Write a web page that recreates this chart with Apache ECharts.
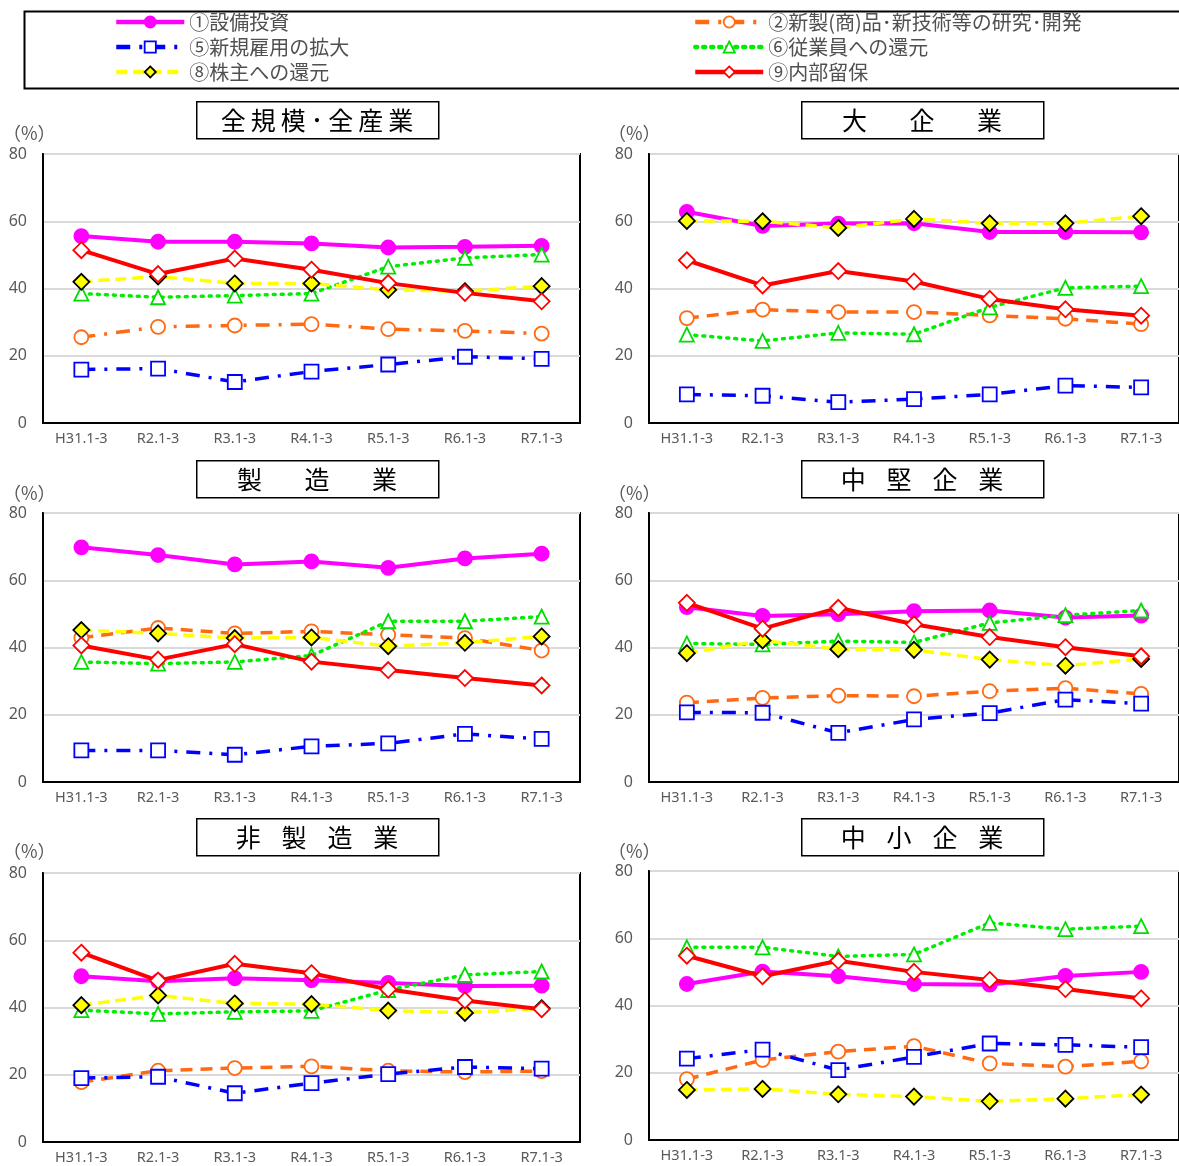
<!DOCTYPE html>
<html><head><meta charset="utf-8">
<script src="https://cdn.jsdelivr.net/npm/echarts@6/dist/echarts.min.js"></script>
<style>html,body{margin:0;padding:0;background:#fff}#c{width:1179px;height:1166px}</style>
</head><body><div id="c"></div>
<script>
const categories = ['H31.1-3','R2.1-3','R3.1-3','R4.1-3','R5.1-3','R6.1-3','R7.1-3'];
const seriesNames = ['①設備投資','②新製(商)品･新技術等の研究･開発','⑤新規雇用の拡大','⑥従業員への還元','⑧株主への還元','⑨内部留保'];
const yTicks = [0, 20, 40, 60, 80];
const panelTitles = [
  '全\u2009規\u2009模\u2009･\u2009全\u2009産\u2009業',
  '大\u2003\u2002\u2009企\u2003\u2002\u2009業',
  '製\u2003\u2002\u2009造\u2003\u2002\u2009業',
  '中\u2002\u2004堅\u2002\u2004企\u2002\u2004業',
  '非\u2002\u2004製\u2002\u2004造\u2002\u2004業',
  '中\u2002\u2004小\u2002\u2004企\u2002\u2004業'
];

// rows in seriesNames order
const allSizes = [
  [55.6, 53.9, 53.9, 53.4, 52.2, 52.4, 52.7],
  [25.5, 28.6, 29.0, 29.4, 27.9, 27.4, 26.6],
  [15.9, 16.2, 12.2, 15.3, 17.4, 19.7, 19.1],
  [38.5, 37.4, 37.9, 38.5, 46.5, 49.1, 50.1],
  [42.0, 43.6, 41.5, 41.5, 39.6, 39.2, 40.7],
  [51.4, 44.3, 48.9, 45.6, 41.6, 38.7, 36.2]
];
const large = [
  [62.8, 58.6, 59.3, 59.4, 56.8, 56.8, 56.7],
  [31.2, 33.7, 33.0, 33.0, 32.0, 31.0, 29.4],
  [8.5, 8.1, 6.2, 7.1, 8.5, 11.1, 10.6],
  [26.3, 24.4, 26.8, 26.4, 34.4, 40.2, 40.7],
  [60.1, 60.0, 58.0, 60.7, 59.4, 59.4, 61.5],
  [48.4, 40.9, 45.2, 42.1, 36.9, 33.8, 31.9]
];
const manufacturing = [
  [69.8, 67.5, 64.7, 65.6, 63.7, 66.5, 67.9],
  [42.9, 45.8, 44.2, 44.8, 43.8, 42.8, 39.1],
  [9.4, 9.4, 8.1, 10.6, 11.5, 14.3, 12.8],
  [35.7, 35.2, 35.7, 37.6, 47.8, 47.8, 49.2],
  [45.2, 44.2, 42.8, 43.0, 40.4, 41.4, 43.3],
  [40.6, 36.4, 41.0, 35.8, 33.3, 30.9, 28.7]
];
const midsize = [
  [52.0, 49.4, 49.9, 50.8, 51.0, 48.9, 49.5],
  [23.6, 25.0, 25.7, 25.5, 27.0, 27.9, 26.2],
  [20.7, 20.6, 14.6, 18.6, 20.5, 24.5, 23.3],
  [41.2, 40.9, 41.9, 41.5, 47.3, 49.6, 51.0],
  [38.3, 42.1, 39.5, 39.3, 36.4, 34.6, 36.6],
  [53.3, 45.6, 51.8, 46.9, 43.1, 40.1, 37.4]
];
const nonManufacturing = [
  [49.3, 47.8, 48.7, 48.1, 47.3, 46.4, 46.5],
  [17.8, 21.2, 22.0, 22.5, 21.2, 20.8, 21.1],
  [19.0, 19.4, 14.5, 17.5, 20.2, 22.3, 21.8],
  [39.2, 38.1, 38.7, 39.0, 45.2, 49.7, 50.7],
  [40.7, 43.6, 41.2, 41.0, 39.1, 38.4, 39.8],
  [56.3, 48.0, 53.0, 50.2, 45.4, 42.1, 39.5]
];
const small = [
  [46.4, 50.1, 48.7, 46.4, 46.2, 48.8, 50.0],
  [18.1, 23.8, 26.3, 27.9, 22.8, 21.8, 23.4],
  [24.2, 26.9, 20.8, 24.7, 28.7, 28.3, 27.6],
  [57.3, 57.3, 54.6, 55.2, 64.6, 62.7, 63.6],
  [14.9, 15.2, 13.6, 12.9, 11.5, 12.3, 13.5],
  [54.8, 48.7, 53.3, 50.0, 47.6, 44.9, 42.1]
];
const panels = [allSizes, large, manufacturing, midsize, nonManufacturing, small];

// layout
const grids = [
  {left: 43, top: 154, width: 537, height: 269},
  {left: 649, top: 154, width: 536, height: 269},
  {left: 43, top: 513, width: 537, height: 269},
  {left: 649, top: 513, width: 536, height: 269},
  {left: 43, top: 873, width: 537, height: 269},
  {left: 649, top: 871, width: 536, height: 269}
];
const titleBoxes = [
  {x: 196, y: 101}, {x: 801, y: 101},
  {x: 196, y: 460}, {x: 801, y: 460},
  {x: 196, y: 818}, {x: 801, y: 818}
];
const pctLabels = [
  {x: 3, y: 124}, {x: 608, y: 124},
  {x: 3, y: 484}, {x: 608, y: 484},
  {x: 3, y: 842}, {x: 608, y: 842}
];

const styles = [
  {color: '#FF00FF', width: 4, type: 'solid', symbol: 'circle', size: 14, fill: '#FF00FF', border: '#FF00FF'},
  {color: '#FF6A13', width: 3.5, type: [12, 8], symbol: 'circle', size: 14, fill: '#ffffff', border: '#FF6A13'},
  {color: '#0000FF', width: 3.5, type: [14, 9, 3, 9], symbol: 'rect', size: 14, fill: '#ffffff', border: '#0000FF'},
  {color: '#00EE00', width: 3.5, type: [2, 6], symbol: 'triangle', size: 14, fill: '#ffffff', border: '#00DD00'},
  {color: '#FFFF00', width: 3.5, type: [11, 6], symbol: 'diamond', size: 16, fill: '#FFFF00', border: '#000000'},
  {color: '#FF0000', width: 4, type: 'solid', symbol: 'diamond', size: 16, fill: '#ffffff', border: '#FF0000'}
];

const FONT = '"Noto Sans", "Noto Sans CJK JP", sans-serif';
const xAxis = [], yAxis = [], series = [], gridOpt = [], graphic = [];

grids.forEach((g, i) => {
  gridOpt.push(Object.assign({show: true, borderColor: '#000', borderWidth: 2, backgroundColor: '#fff'}, g));
  xAxis.push({
    type: 'category', gridIndex: i, data: categories, boundaryGap: true,
    axisLine: {lineStyle: {color: '#000', width: 2}},
    axisTick: {inside: true, length: 5, lineStyle: {color: '#000', width: 2}},
    axisLabel: {color: '#595959', fontSize: 14.5, margin: 9, fontFamily: FONT}
  });
  yAxis.push({
    type: 'value', gridIndex: i, min: yTicks[0], max: yTicks[yTicks.length - 1], interval: 20,
    axisLine: {show: true, lineStyle: {color: '#000', width: 2}},
    axisTick: {show: false},
    splitLine: {lineStyle: {color: '#d9d9d9', width: 2}},
    axisLabel: {color: '#595959', fontSize: 16, margin: 16, fontFamily: FONT}
  });
  panels[i].forEach((vals, s) => {
    const st = styles[s];
    let lt = st.type;
    if (i === 0 && s === 1) lt = [14, 9, 3, 9];
    series.push({
      name: seriesNames[s], type: 'line', xAxisIndex: i, yAxisIndex: i, data: vals,
      symbol: st.symbol, symbolSize: st.size, showAllSymbol: true,
      lineStyle: {color: st.color, width: st.width, type: lt, cap: s === 3 ? 'round' : 'butt'},
      itemStyle: {color: st.fill, borderColor: st.border, borderWidth: 1.8},
      z: 2 + s, animation: false
    });
  });
  const tb = titleBoxes[i];
  graphic.push({
    type: 'rect', left: tb.x, top: tb.y, shape: {width: 242, height: 37},
    style: {fill: '#fff', stroke: '#000', lineWidth: 1.5}
  });
  graphic.push({
    type: 'text', x: tb.x + 121, y: tb.y + 19,
    style: {text: panelTitles[i], font: '25px "Noto Sans CJK JP", sans-serif', fill: '#000',
      textAlign: 'center', textVerticalAlign: 'middle'}
  });
  const pl = pctLabels[i];
  graphic.push({
    type: 'text', x: pl.x, y: pl.y,
    style: {text: '（%）', font: '18px "Noto Sans CJK JP", sans-serif', fill: '#595959'}
  });
});

graphic.push({
  type: 'rect', left: 22, top: 9, shape: {width: 1170, height: 77},
  style: {fill: 'none', stroke: '#000', lineWidth: 2}, z: -1
});

const legendCommon = {
  orient: 'vertical', itemWidth: 68, itemHeight: 14, itemGap: 5,
  textStyle: {fontSize: 20, lineHeight: 20, color: '#505050', fontFamily: '"Noto Sans CJK JP", sans-serif'},
  itemStyle: {borderWidth: 1.8},
  lineStyle: {width: 4.5}
};
const option = {
  backgroundColor: '#fff',
  animation: false,
  grid: gridOpt, xAxis, yAxis, series, graphic,
  legend: [
    Object.assign({left: 114, top: 12, padding: 0, data: [seriesNames[0], seriesNames[2], seriesNames[4]]}, legendCommon),
    Object.assign({left: 693, top: 12, padding: 0, data: [seriesNames[1], seriesNames[3], seriesNames[5]]}, legendCommon)
  ]
};
const chart = echarts.init(document.getElementById('c'));
chart.setOption(option);
</script></body></html>
